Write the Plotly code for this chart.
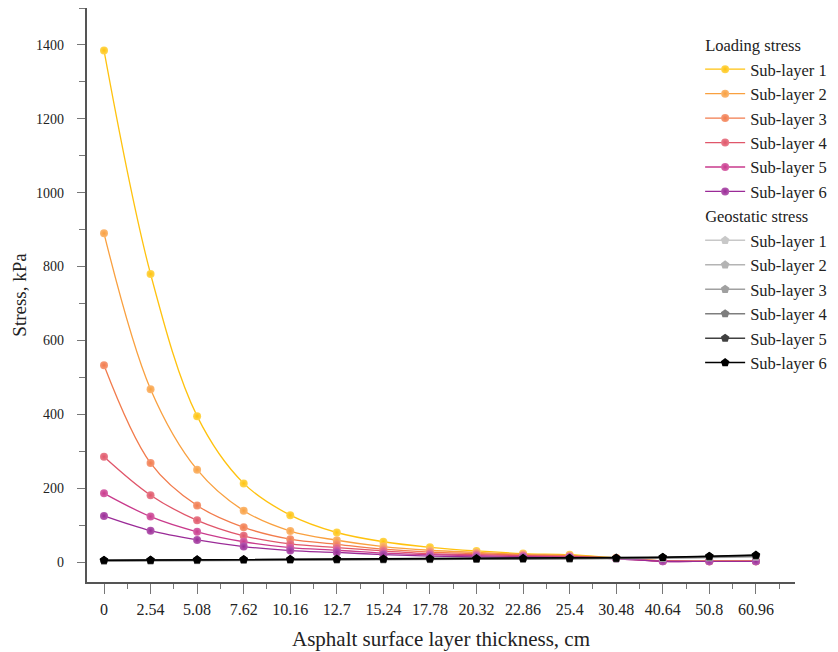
import plotly.graph_objects as go

thickness_labels = ["0", "2.54", "5.08", "7.62", "10.16", "12.7", "15.24", "17.78",
                    "20.32", "22.86", "25.4", "30.48", "40.64", "50.8", "60.96"]
stress_ticks = [0, 200, 400, 600, 800, 1000, 1200, 1400]

loading_names = ["Sub-layer 1", "Sub-layer 2", "Sub-layer 3", "Sub-layer 4", "Sub-layer 5", "Sub-layer 6"]
loading_1 = [1385, 780, 395, 213, 127, 80, 55, 40, 30, 23, 20, 11, 3, 3, 3]
loading_2 = [890, 468, 250, 139, 84, 59, 42, 32, 26, 21, 18, 11, 3, 2, 2]
loading_3 = [533, 268, 153, 94, 62, 48, 35, 27, 23, 19, 16, 10, 3, 2, 2]
loading_4 = [285, 181, 113, 71, 49, 39, 30, 23, 20, 17, 15, 10, 3, 2, 2]
loading_5 = [186, 123, 82, 55, 39, 32, 24, 20, 17, 15, 13, 9, 2, 2, 2]
loading_6 = [125, 85, 60, 42, 31, 26, 20, 16, 14, 13, 12, 9, 2, 2, 2]

geo_names = ["Sub-layer 1", "Sub-layer 2", "Sub-layer 3", "Sub-layer 4", "Sub-layer 5", "Sub-layer 6"]
geo_1 = [2.5, 3, 4, 4.5, 5, 5.5, 6, 6.5, 7, 7.5, 8, 8.5, 10, 12, 14]
geo_2 = [3, 3.5, 4.5, 5, 5.5, 6, 6.5, 7, 7.5, 8, 8.5, 9, 10.5, 12.5, 15]
geo_3 = [3.5, 4, 5, 5.5, 6, 6.5, 7, 7.5, 8, 8.5, 9, 9.5, 11, 13, 16]
geo_4 = [4, 4.5, 5.5, 6, 6.5, 7, 7.5, 8, 8.5, 9, 9.5, 10, 12, 14, 17]
geo_5 = [4.5, 5, 6, 6.5, 7, 7.5, 8, 8.5, 9, 9.5, 10, 10.5, 12.5, 15, 18]
geo_6 = [5, 5.5, 6.5, 7, 7.5, 8, 8.5, 9, 9.5, 10, 10.5, 11, 13, 16, 19]

loading_series = [loading_1, loading_2, loading_3, loading_4, loading_5, loading_6]
geo_series = [geo_1, geo_2, geo_3, geo_4, geo_5, geo_6]

loading_colors = ["#FFC20E", "#F9A03F", "#F27B4C", "#E0566A", "#C93A8C", "#9A2A97"]
loading_light = ["#FFD650", "#FBB873", "#F59A78", "#E87E8C", "#D768AA", "#B35CB0"]
geo_colors = ["#C8C8C8", "#B4B4B4", "#A0A0A0", "#7E7E7E", "#404040", "#000000"]

x_idx = list(range(len(thickness_labels)))
FONT = "Liberation Serif"
LEG = 16.5

fig = go.Figure()
for i, (name, vals) in enumerate(zip(loading_names, loading_series)):
    fig.add_trace(go.Scatter(
        x=x_idx, y=vals, name=name, mode="lines+markers",
        line=dict(color=loading_colors[i], width=1.3, shape="spline", smoothing=1.0),
        marker=dict(size=8, color=loading_light[i],
                    gradient=dict(type="radial", color=loading_colors[i]),
                    line=dict(width=0)),
        legendgroup="loading",
        legendgrouptitle=dict(text="Loading stress", font=dict(family=FONT, size=LEG, color="#222")),
    ))
for i, (name, vals) in enumerate(zip(geo_names, geo_series)):
    fig.add_trace(go.Scatter(
        x=x_idx, y=vals, name=name, mode="lines+markers",
        line=dict(color=geo_colors[i], width=1.5),
        marker=dict(size=9, symbol="pentagon", color=geo_colors[i], line=dict(width=0)),
        legendgroup="geo",
        legendgrouptitle=dict(text="Geostatic stress", font=dict(family=FONT, size=LEG, color="#222")),
    ))

fig.update_layout(
    width=838, height=652,
    margin=dict(l=87, r=43, t=8, b=70, autoexpand=False),
    paper_bgcolor="white", plot_bgcolor="white",
    font=dict(family=FONT, size=15, color="#222"),
    showlegend=True,
    legend=dict(x=0.866, y=0.966, xanchor="left", yanchor="top",
                font=dict(family=FONT, size=LEG, color="#222"),
                bgcolor="rgba(0,0,0,0)", tracegroupgap=0, traceorder="grouped",
                itemwidth=40),
    xaxis=dict(
        range=[-0.365, 14.84], tickvals=x_idx, ticktext=thickness_labels,
        showgrid=False, zeroline=False, showline=True, linecolor="#555", linewidth=1.5,
        ticks="outside", ticklen=10, tickcolor="#777", tickwidth=1,
        minor=dict(dtick=0.5, tick0=0, ticks="outside", ticklen=5, tickcolor="#777", showgrid=False),
        tickfont=dict(size=16), ticklabelstandoff=2, automargin=False,
        title=dict(text="Asphalt surface layer thickness, cm", font=dict(size=21), standoff=14),
    ),
    yaxis=dict(
        range=[-54, 1500], tickvals=stress_ticks,
        ticktext=[f"{v}\u00a0\u00a0\u00a0" for v in stress_ticks],
        showgrid=False, zeroline=False, showline=True, linecolor="#555", linewidth=1.5,
        ticks="outside", ticklen=8, tickcolor="#777", tickwidth=1,
        minor=dict(dtick=100, tick0=0, ticks="outside", ticklen=6, tickcolor="#777", showgrid=False),
        tickfont=dict(size=14), automargin=False,
        title=dict(text="Stress, kPa", font=dict(size=19), standoff=4),
    ),
)

fig.write_html("out.html")
